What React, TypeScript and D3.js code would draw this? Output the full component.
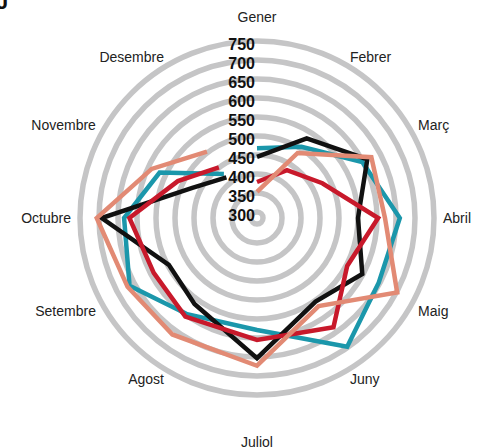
import React from "react";
import * as d3 from "d3";

const months = ["Gener", "Febrer", "Març", "Abril", "Maig", "Juny", "Juliol", "Agost", "Setembre", "Octubre", "Novembre", "Desembre"];
const ticks = [300, 350, 400, 450, 500, 550, 600, 650, 700, 750];

// one value per month, Gener .. Desembre
const tealValues = [468, 505, 598, 660, 647, 698, 579, 597, 664, 634, 567, 429];
const blackValues = [445, 531, 613, 550, 598, 553, 653, 564, 547, 693, 472, 418];
const redValues = [379, 433, 479, 603, 553, 635, 605, 605, 592, 620, 514, 451];
const salmonValues = [353, 486, 625, 621, 702, 567, 673, 663, 670, 706, 590, 503];

const width = 482;
const height = 448;
const cx = 257;
const cy = 218;

// the polylines in the original do not sit exactly on 30 degree spokes
const vertexDegrees = [0, 32, 62, 90, 118, 145, 180, 216, 242, 270, 295, 323];

export default function App() {
  const r = d3.scaleLinear().domain([300, 750]).range([6, 177]);
  const vertexAngle = d3.scaleOrdinal<string, number>().domain(months).range(vertexDegrees);
  const labelAngle = d3.scaleLinear().domain([0, months.length]).range([0, 360]);

  const series = [
    { key: "teal", values: tealValues, color: "#1b97ab" },
    { key: "black", values: blackValues, color: "#111111" },
    { key: "red", values: redValues, color: "#c8192b" },
    { key: "salmon", values: salmonValues, color: "#e28a74" },
  ];

  const line = d3
    .lineRadial<number>()
    .angle((d, i) => (vertexAngle(months[i]) * Math.PI) / 180)
    .radius((d) => r(d));

  return (
    <svg width={width} height={height} style={{ position: "absolute", left: 0, top: 0 }}>
      <text x={-4} y={9} fontFamily="Liberation Sans, Arial, sans-serif" fontWeight="bold" fontSize={22} fill="#111">
        J
      </text>
      <g transform={`translate(${cx},${cy})`}>
        {ticks.map((t) => (
          <circle key={t} r={r(t)} fill="none" stroke="#c5c5c6" strokeWidth={5.5} />
        ))}
        {series.map((s) => (
          <path
            key={s.key}
            d={line(s.values) ?? ""}
            fill="none"
            stroke={s.color}
            strokeWidth={4.5}
            strokeLinejoin="miter"
          />
        ))}
        {ticks.map((t) => (
          <text
            key={t}
            x={-2}
            y={-r(t) + 3}
            textAnchor="end"
            dominantBaseline="central"
            fontFamily="Liberation Sans, Arial, sans-serif"
            fontWeight="bold"
            fontSize={16}
            fill="#111"
          >
            {t}
          </text>
        ))}
        {months.map((m, i) => {
          const a = (labelAngle(i) * Math.PI) / 180;
          const s = Math.sin(a);
          const lr = i === 0 ? 201 : i === 6 ? 224 : 186;
          const anchor = Math.abs(s) < 0.01 ? "middle" : s > 0 ? "start" : "end";
          return (
            <text
              key={m}
              x={lr * s}
              y={-lr * Math.cos(a)}
              textAnchor={anchor}
              dominantBaseline="central"
              fontFamily="Liberation Sans, Arial, sans-serif"
              fontSize={14}
              fill="#222"
            >
              {m}
            </text>
          );
        })}
      </g>
    </svg>
  );
}
